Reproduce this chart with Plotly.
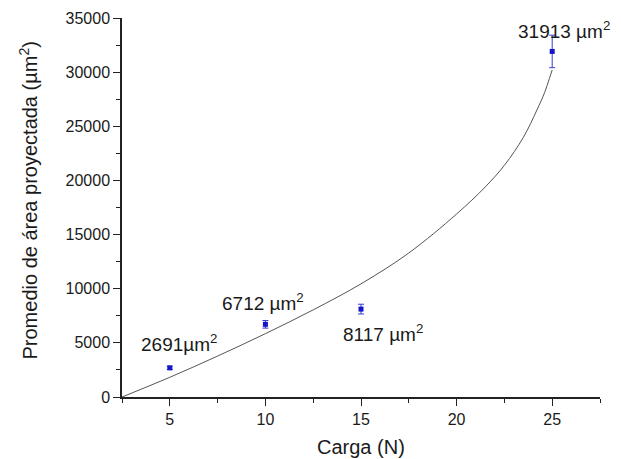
import plotly.graph_objects as go

# Measured mean projected area per load
carga = [5, 10, 15, 25]
area = [2691, 6712, 8117, 31913]
area_err = [150, 350, 450, 1500]

# Fitted trend curve (sampled points)
fit_x = [2.5, 5, 7.5, 10, 12.5, 15, 17.5, 20, 21.5, 22.5, 23.5, 24.2, 24.6, 24.85, 25.0]
fit_y = [0, 1820, 3780, 5850, 8050, 10450, 13300, 16900, 19400, 21400, 24000, 26500, 28100, 29400, 30200]

# Value labels next to each point
label_text = ["2691µm<sup>2</sup>", "6712 µm<sup>2</sup>", "8117 µm<sup>2</sup>", "31913 µm<sup>2</sup>"]
label_x = [5.5, 9.9, 16.15, 25.6]
label_y = [4990, 8770, 5900, 33900]

X_TITLE = "Carga (N)"
Y_TITLE = "Promedio de área proyectada (µm<sup>2</sup>)"

FONT = "Liberation Sans, Arial, sans-serif"
TEXT = "#1a1a1a"

fig = go.Figure()

fig.add_trace(go.Scatter(
    x=fit_x, y=fit_y, mode="lines",
    line=dict(color="#555555", width=1, shape="spline", smoothing=1),
    hoverinfo="skip", showlegend=False,
))

fig.add_trace(go.Scatter(
    x=carga, y=area, mode="markers",
    marker=dict(symbol="square", size=5, color="#1414c8"),
    error_y=dict(type="data", array=area_err, visible=True,
                 color="#3a3ad0", thickness=1, width=3),
    showlegend=False,
))

for t, lx, ly in zip(label_text, label_x, label_y):
    fig.add_annotation(x=lx, y=ly, text=t, showarrow=False,
                       xanchor="center", yanchor="middle",
                       font=dict(family=FONT, size=19, color=TEXT))

# Axis titles placed relative to the plotting area
fig.add_annotation(xref="paper", yref="paper", x=0.5, y=0, yshift=-50,
                   text=X_TITLE, showarrow=False, xanchor="center", yanchor="middle",
                   font=dict(family=FONT, size=20, color=TEXT))
fig.add_annotation(xref="paper", yref="paper", x=0, y=0.5, xshift=-94, yshift=7,
                   text=Y_TITLE, textangle=-90, showarrow=False,
                   xanchor="center", yanchor="middle",
                   font=dict(family=FONT, size=20, color=TEXT))

axis_common = dict(
    showgrid=False, zeroline=False, showline=True,
    linecolor="#222222", linewidth=1.5,
    ticks="outside", ticklen=7, tickwidth=1.2, tickcolor="#222222",
    tickfont=dict(family=FONT, size=16, color=TEXT),
    tickformat="d", automargin=False,
)

fig.update_xaxes(
    range=[2.5, 27.5], tick0=0, dtick=5,
    minor=dict(tick0=0, dtick=2.5, ticks="outside", ticklen=4, tickcolor="#222222", tickwidth=1.2),
    **axis_common,
)
fig.update_yaxes(
    range=[0, 35000], tick0=0, dtick=5000,
    minor=dict(tick0=0, dtick=2500, ticks="outside", ticklen=4, tickcolor="#222222", tickwidth=1.2),
    **axis_common,
)

fig.update_layout(
    width=621, height=459,
    margin=dict(l=122, r=21, t=18, b=62),
    plot_bgcolor="white", paper_bgcolor="white",
)

fig.write_html("out.html")
